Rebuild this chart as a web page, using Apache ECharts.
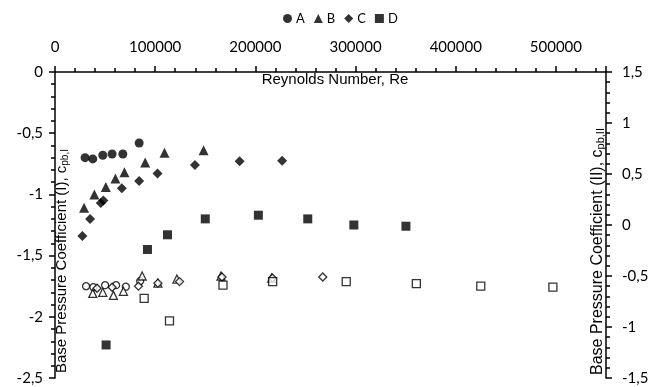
<!DOCTYPE html>
<html>
<head>
<meta charset="utf-8">
<script src="https://cdn.jsdelivr.net/npm/echarts@6/dist/echarts.min.js"></script>
<style>
html,body{margin:0;padding:0;background:#fff;}
#chart{width:662px;height:387px;}
</style>
</head>
<body>
<div id="chart"></div>
<script>
// Filled markers: Base Pressure Coefficient (I), left axis
const reA = [30000, 37700, 47700, 57000, 67700, 84000];
const cpA = [-0.70, -0.71, -0.68, -0.67, -0.67, -0.58];
const reB = [29000, 39300, 50700, 60300, 69300, 90000, 109300, 148300];
const cpB = [-1.11, -1.00, -0.94, -0.87, -0.82, -0.74, -0.66, -0.64];
const reC = [27300, 35000, 45700, 48300, 66700, 84000, 102300, 139700, 184300, 226700];
const cpC = [-1.34, -1.20, -1.07, -1.05, -0.95, -0.89, -0.83, -0.76, -0.73, -0.725];
const reD = [51000, 92300, 112300, 150000, 203000, 252300, 298300, 350300];
const cpD = [-2.23, -1.45, -1.33, -1.20, -1.17, -1.20, -1.25, -1.26];

// Hollow markers: Base Pressure Coefficient (II), right axis
const reA2 = [31000, 38300, 50000, 61000, 70700, 85000];
const cpA2 = [-0.60, -0.61, -0.59, -0.59, -0.605, -0.55];
const reB2 = [37700, 47700, 58300, 68300, 87000, 102700, 121700, 165700, 216300];
const cpB2 = [-0.67, -0.66, -0.69, -0.65, -0.50, -0.57, -0.53, -0.50, -0.52];
const reC2 = [42000, 57000, 83300, 102700, 124300, 166700, 217000, 267300];
const cpC2 = [-0.62, -0.61, -0.60, -0.57, -0.555, -0.51, -0.52, -0.51];
const reD2 = [89000, 114300, 167700, 217300, 290700, 360700, 425000, 497000];
const cpD2 = [-0.72, -0.94, -0.59, -0.555, -0.555, -0.575, -0.60, -0.61];

const legendNames = ['A', 'B', 'C', 'D'];
const xTitle = 'Reynolds Number, Re';

function pairs(xs, ys) { return xs.map((x, i) => [x, ys[i]]); }
const comma = v => String(v).replace('.', ',');

const labelFont = 'Lato, "Open Sans", sans-serif';
const titleFont = '"Liberation Sans", Arial, sans-serif';

const chart = echarts.init(document.getElementById('chart'));

function filled(name, sym, size, xs, ys) {
  return {
    name: name, type: 'scatter', xAxisIndex: 0, yAxisIndex: 0,
    symbol: sym, symbolSize: size, data: pairs(xs, ys),
    itemStyle: { color: '#000' }, emphasis: { disabled: true }, z: 3
  };
}
function hollow(name, sym, size, xs, ys) {
  return {
    name: name, type: 'scatter', xAxisIndex: 0, yAxisIndex: 1,
    symbol: sym, symbolSize: size, data: pairs(xs, ys),
    itemStyle: { color: '#fff', borderColor: '#000', borderWidth: 1.3 },
    emphasis: { disabled: true }, z: 4
  };
}

function axisCommon() {
  return {
    axisLine: { show: true, lineStyle: { color: '#000', width: 1.5 } },
    axisTick: { show: true, length: 6, lineStyle: { color: '#000', width: 1.5 } },
    minorTick: { show: true, splitNumber: 5, length: 4, lineStyle: { color: '#000', width: 1.5 } },
    splitLine: { show: false },
    minorSplitLine: { show: false }
  };
}

chart.setOption({
  animation: false,
  backgroundColor: '#fff',
  grid: { left: 55, right: 56, top: 72, bottom: 9 },
  legend: {
    data: legendNames.map((n, i) => ({ name: n, icon: ['circle', 'triangle', 'diamond', 'rect'][i] })),
    left: 278, top: 7, itemWidth: 9, itemHeight: 9, itemGap: 9,
    textStyle: { fontFamily: labelFont, fontSize: 13, color: '#000', padding: [0, 0, 0, -1] },
    selectedMode: false
  },
  xAxis: [Object.assign({
    type: 'value', position: 'top', min: 0, max: 550000, interval: 100000,
    axisLabel: {
      margin: 17, color: '#000', fontFamily: labelFont, fontSize: 15,
      formatter: v => (v > 500000 ? '' : String(v))
    }
  }, axisCommon())],
  yAxis: [
    Object.assign({
      type: 'value', position: 'left', min: -2.5, max: 0, interval: 0.5,
      axisLabel: { margin: 12, color: '#000', fontFamily: labelFont, fontSize: 15, formatter: comma }
    }, axisCommon()),
    Object.assign({
      type: 'value', position: 'right', min: -1.5, max: 1.5, interval: 0.5,
      axisLabel: { margin: 16, color: '#000', fontFamily: labelFont, fontSize: 15, formatter: comma }
    }, axisCommon())
  ],
  series: [
    filled('A', 'circle', 9, reA, cpA),
    filled('B', 'triangle', 10, reB, cpB),
    filled('C', 'diamond', 10, reC, cpC),
    filled('D', 'rect', 9, reD, cpD),
    hollow('A (II)', 'circle', 7, reA2, cpA2),
    hollow('B (II)', 'triangle', 8, reB2, cpB2),
    hollow('C (II)', 'diamond', 8, reC2, cpC2),
    hollow('D (II)', 'rect', 8, reD2, cpD2)
  ],
  graphic: [
    {
      type: 'text', x: 335, y: 80,
      style: { text: xTitle, fill: '#000', font: '15px ' + titleFont, align: 'center', verticalAlign: 'middle' }
    },
    {
      type: 'text', x: 62, y: 373, rotation: Math.PI / 2,
      style: {
        text: 'Base Pressure Coefficient (I), c{sub|pb,I}', fill: '#000',
        font: '15px ' + titleFont, align: 'left', verticalAlign: 'middle',
        rich: { sub: { fontSize: 10, fontFamily: titleFont, fill: '#000', padding: [6, 0, 0, 0] } }
      }
    },
    {
      type: 'text', x: 598, y: 375, rotation: Math.PI / 2,
      style: {
        text: 'Base Pressure Coefficient (II), c{sub|pb,II}', fill: '#000',
        font: '16px ' + titleFont, align: 'left', verticalAlign: 'middle',
        rich: { sub: { fontSize: 11, fontFamily: titleFont, fill: '#000', padding: [6, 0, 0, 0] } }
      }
    }
  ]
});
</script>
</body>
</html>
